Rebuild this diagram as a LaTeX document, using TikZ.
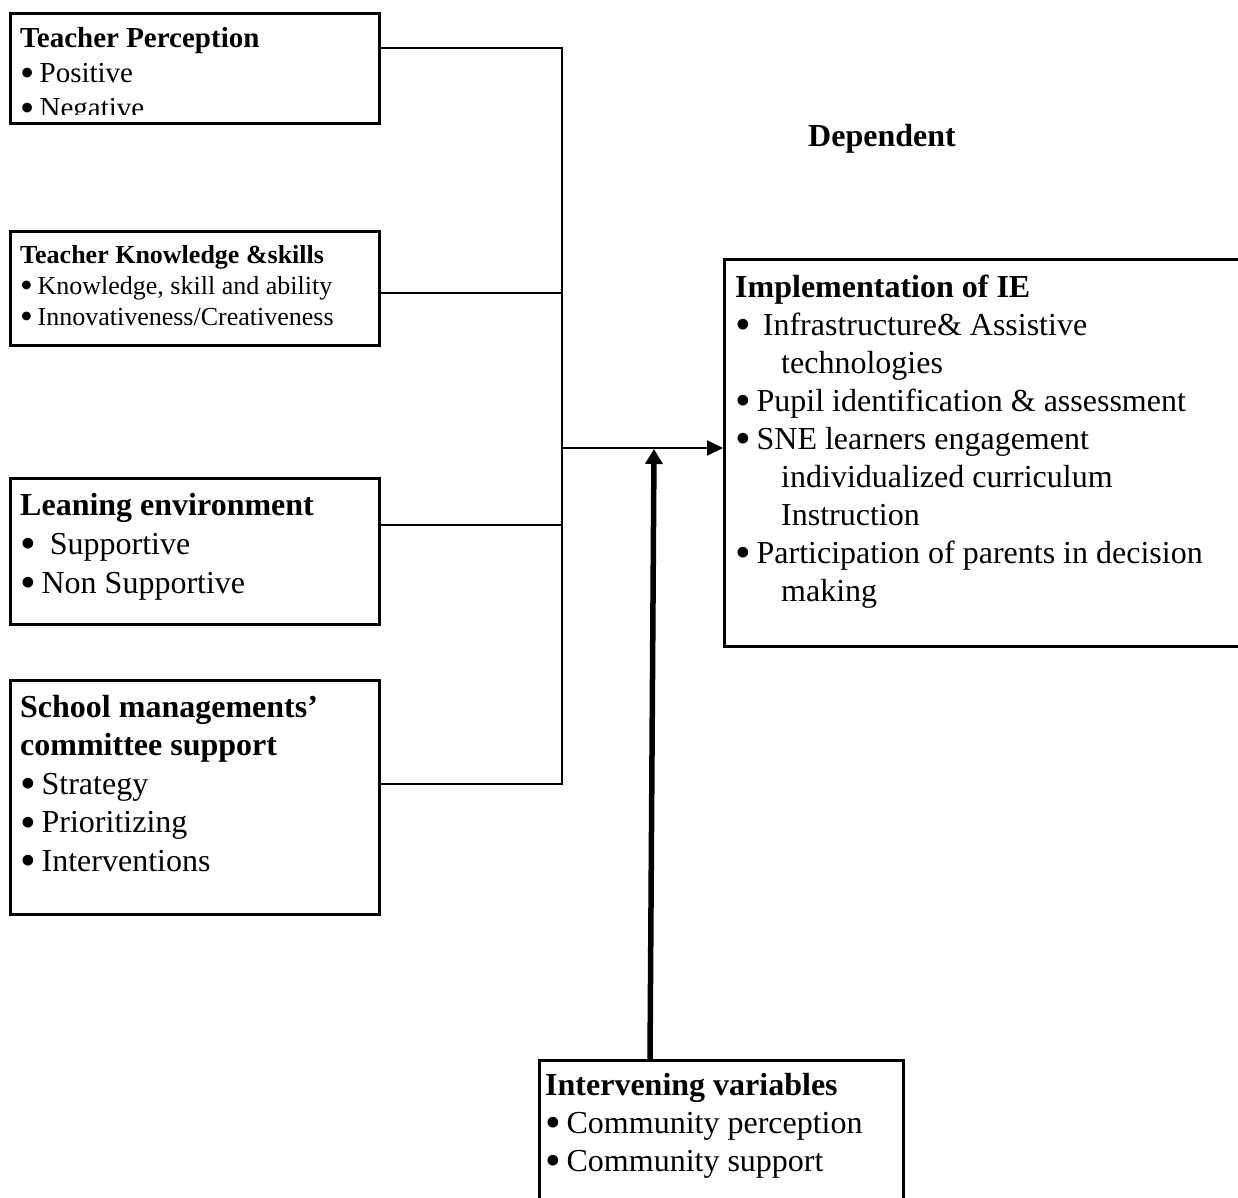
\documentclass[tikz,border=0pt]{standalone}
\usepackage{fontspec}
\setmainfont{Liberation Serif}
\usetikzlibrary{arrows.meta}
\newcommand{\bigdot}{\smash{\raisebox{-.15em}{\scalebox{1.4}{\textbullet}}}}
\newcommand{\bul}{\bigdot\hspace{.18em}}
\begin{document}
\begin{tikzpicture}[x=1pt,y=-1pt,
    box/.style={draw, line width=2.5pt, anchor=north west, inner sep=0pt},
    txt/.style={anchor=base west, inner sep=0pt, align=left, text width=#1,
      execute at begin node={\spaceskip=0pt\xspaceskip=0pt\relax}},
    big/.style={font=\fontsize{32}{38}\selectfont},
    conn/.style={line width=2pt}]
  \useasboundingbox (0,0) rectangle (1238,1197);
  \clip (0,0) rectangle (1238,1197);

  \node [box, minimum width=369pt, minimum height=110pt] (perc) at (9,12) {};
  \node [box, minimum width=369pt, minimum height=114pt] (know) at (9,230) {};
  \node [box, minimum width=369pt, minimum height=146pt] (env) at (9,477) {};
  \node [box, minimum width=369pt, minimum height=234pt] (smc) at (9,679) {};
  \node [box, minimum width=600pt, minimum height=387pt] (impl) at (723,258) {};
  \node [box, minimum width=364pt, minimum height=200pt] (interv) at (538,1059) {};

  \begin{scope}
    \clip (9,12) rectangle (378,114);
    \node [txt=350pt, font=\fontsize{29}{35}\selectfont] (perc-t) at (20,47)
      {\textbf{Teacher Perception}\\ \bul Positive\\ \bul Negative};
  \end{scope}
  \node [txt=350pt, font=\fontsize{26}{31}\selectfont] (know-t) at (20,263)
    {\textbf{Teacher Knowledge \&skills}\\ \bul Knowledge, skill and ability\\ \bul Innovativeness/Creativeness};
  \node [txt=350pt, font=\fontsize{32}{39}\selectfont] (env-t) at (20,515)
    {\textbf{Leaning environment}\\ \bigdot\hspace{14pt}Supportive\\ \bul Non Supportive};
  \node [txt=350pt, font=\fontsize{32}{38.5}\selectfont] (smc-t) at (20,717)
    {\textbf{School managements'}\\ \textbf{committee support}\\ \bul Strategy\\ \bul Prioritizing\\ \bul Interventions};
  \node [txt=490pt, big] (impl-t) at (735,297)
    {\textbf{Implementation of IE}\\
     \bigdot\hspace{12pt}Infrastructure\& Assistive\\
     \hspace*{46pt}technologies\\
     \bul Pupil identification \& assessment\\
     \bul SNE learners engagement\\
     \hspace*{46pt}individualized curriculum\\
     \hspace*{46pt}Instruction\\
     \bul Participation of parents in decision\\
     \hspace*{46pt}making};
  \node [txt=350pt, big] (interv-t) at (545,1095)
    {\textbf{Intervening variables}\\ \bul Community perception\\ \bul Community support};
  \node [anchor=base west, inner sep=0pt, font=\bfseries\fontsize{32}{38}\selectfont] (dep) at (808,146) {Dependent};

  \coordinate (t1) at (562,48);
  \coordinate (t2) at (562,293);
  \coordinate (t3) at (562,525);
  \coordinate (t4) at (562,784);
  \coordinate (tm) at (562,448);
  \coordinate (tip) at (654,449);
  \coordinate (foot) at (650,1059);

  \draw [conn] (perc.east |- t1) -- (t1) -- (t4) -- (smc.east |- t4);
  \draw [conn] (know.east |- t2) -- (t2);
  \draw [conn] (env.east |- t3) -- (t3);
  \draw [conn, -{Triangle[length=16pt, width=15pt]}] (tm) -- (impl.west |- tm);
  \draw [line width=5.5pt, -{Triangle[length=15pt, width=17pt]}] (interv.north -| foot) -- (tip);
\end{tikzpicture}
\end{document}
